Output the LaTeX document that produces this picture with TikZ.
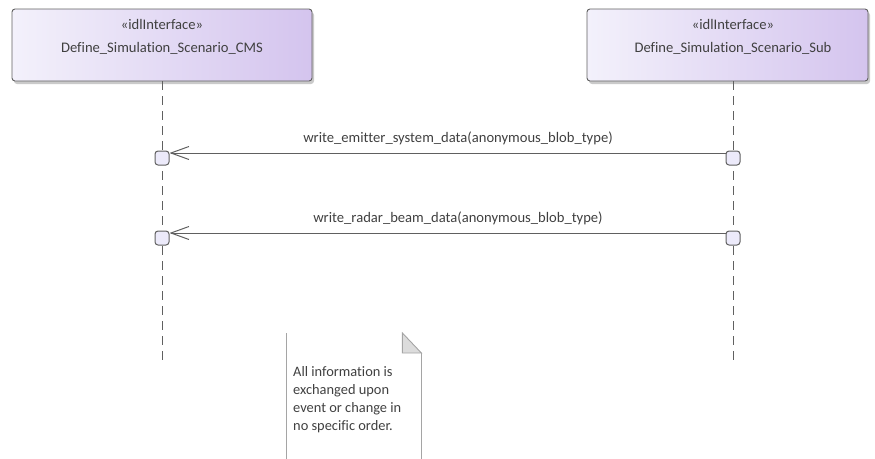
\documentclass[tikz,border=0pt]{standalone}
\usepackage{fontspec}
\setmainfont{Carlito}[Ligatures=NoCommon]
\usetikzlibrary{arrows.meta, shadows}
\definecolor{colText}{RGB}{64,64,64}
\definecolor{colLine}{RGB}{96,96,96}
\definecolor{colBoxL}{RGB}{243,241,251}
\definecolor{colBoxR}{RGB}{212,196,238}
\definecolor{colAct}{RGB}{236,234,250}
\definecolor{colNote}{RGB}{165,165,165}
\definecolor{colFold}{RGB}{220,220,220}
\tikzset{
    lifebox/.style={rectangle, draw=colLine, rounded corners=3pt, line width=0.9pt,
        left color=colBoxL, right color=colBoxR, minimum height=72pt,
        drop shadow={shadow xshift=2pt, shadow yshift=-3pt, fill=black!35, opacity=0.6}},
    boxtext/.style={font=\fontsize{14.6}{16}\selectfont, text=colText, anchor=base, inner sep=0pt},
    lifeline/.style={colLine, line width=1pt, dash pattern=on 9pt off 6pt},
    actbox/.style={rectangle, draw=colLine, fill=colAct, rounded corners=3pt, line width=1pt,
        minimum width=14pt, minimum height=14pt, inner sep=0pt},
    msg/.style={-{Straight Barb[length=18pt,width=13pt]}, colLine, line width=1pt},
    msgtext/.style={font=\fontsize{14.6}{16}\selectfont, text=colText, anchor=base, inner sep=0pt},
    notetext/.style={align=left, font=\fontsize{14.4}{18}\selectfont, text=colText,
        anchor=north west, inner sep=0pt},
    notebox/.style={rectangle, anchor=north west, minimum width=135pt, minimum height=130pt, inner sep=0pt},
    notedge/.style={draw=colNote, line width=0.9pt}
}

\begin{document}
\begin{tikzpicture}[x=1pt, y=-1pt]

    \useasboundingbox (0,0) rectangle (875,458);

    \node[lifebox, minimum width=300pt] (cms) at (162,45) {};
    \node[lifebox, minimum width=281pt] (sub) at (727.5,45) {};
    \node[boxtext] (cmsStereo) at (162,29) {«idlInterface»};
    \node[boxtext] (cmsName) at (162,52) {Define\_Simulation\_Scenario\_CMS};
    \node[boxtext] (subStereo) at (733,29) {«idlInterface»};
    \node[boxtext] (subName) at (733,52) {Define\_Simulation\_Scenario\_Sub};

    \coordinate (cmsEnd) at (162,365);
    \coordinate (subEnd) at (733,365);
    \draw[lifeline] (cms.south) -- (cmsEnd);
    \draw[lifeline] (sub.south -| subEnd) -- (subEnd);

    \node[actbox] (cmsAct1) at (162,158) {};
    \node[actbox] (subAct1) at (733,158) {};
    \node[actbox] (cmsAct2) at (162,238) {};
    \node[actbox] (subAct2) at (733,238) {};

    \draw[msg] ([yshift=5pt]subAct1.west) -- ([yshift=5pt]cmsAct1.east);
    \draw[msg] ([yshift=5pt]subAct2.west) -- ([yshift=5pt]cmsAct2.east);
    \node[msgtext] (msgEmitter) at (458,142) {write\_emitter\_system\_data(anonymous\_blob\_type)};
    \node[msgtext] (msgRadar) at (458,222) {write\_radar\_beam\_data(anonymous\_blob\_type)};

    \node[notebox] (note) at (286,333) {};
    \draw[notedge] (note.north west) -- (note.south west);
    \draw[notedge] ([yshift=-20pt]note.north east) -- (note.south east);
    \draw[notedge, fill=colFold] ([xshift=-19pt]note.north east) -- ([xshift=-19pt, yshift=-20pt]note.north east)
        -- ([yshift=-20pt]note.north east) -- cycle;
    \node[notetext] (noteText) at (293,366) {All information is\\exchanged upon\\event or change in\\no specific order.};

\end{tikzpicture}
\end{document}
